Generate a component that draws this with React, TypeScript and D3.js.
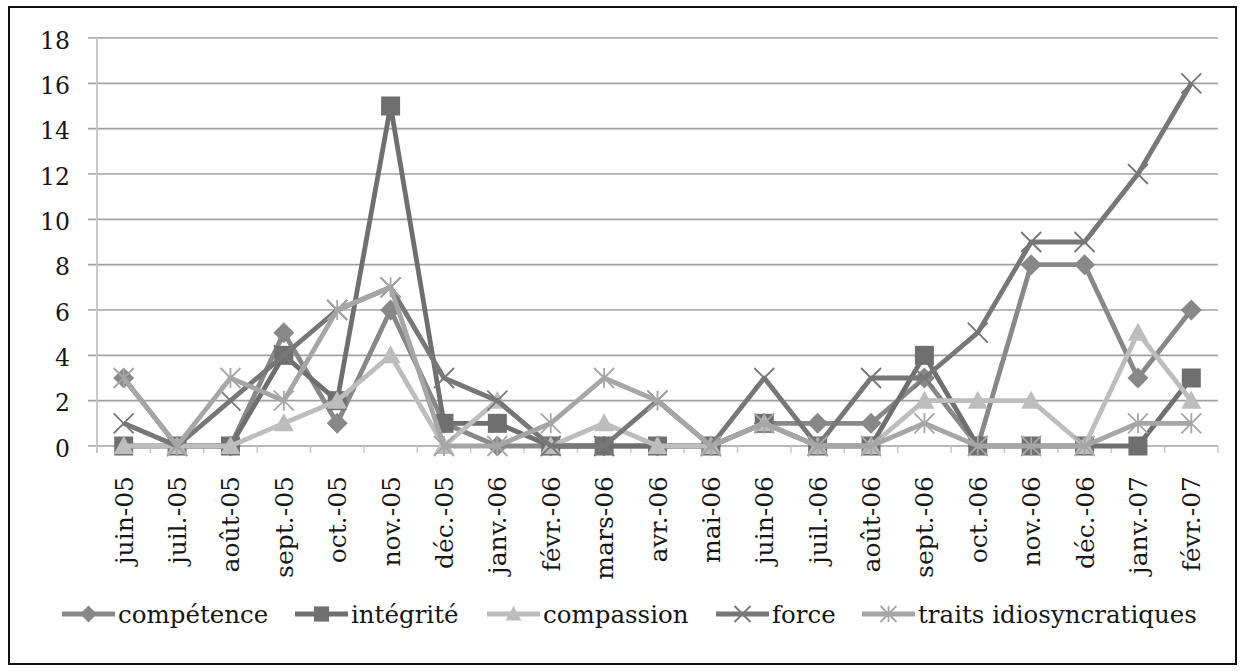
import React from "react";
import * as d3 from "d3";

const categories = [
  "juin-05", "juil.-05", "août-05", "sept.-05", "oct.-05", "nov.-05", "déc.-05",
  "janv.-06", "févr.-06", "mars-06", "avr.-06", "mai-06", "juin-06", "juil.-06",
  "août-06", "sept.-06", "oct.-06", "nov.-06", "déc.-06", "janv.-07", "févr.-07",
];
const competence = [3, 0, 0, 5, 1, 6, 1, 0, 0, 0, 0, 0, 1, 1, 1, 3, 0, 8, 8, 3, 6];
const integrite = [0, 0, 0, 4, 2, 15, 1, 1, 0, 0, 0, 0, 1, 0, 0, 4, 0, 0, 0, 0, 3];
const compassion = [0, 0, 0, 1, 2, 4, 0, 2, 0, 1, 0, 0, 1, 0, 0, 2, 2, 2, 0, 5, 2];
const force = [1, 0, 2, 4, 6, 7, 3, 2, 0, 0, 2, 0, 3, 0, 3, 3, 5, 9, 9, 12, 16];
const traits = [3, 0, 3, 2, 6, 7, 0, 0, 1, 3, 2, 0, 1, 0, 0, 1, 0, 0, 0, 1, 1];
const yTicks = [0, 2, 4, 6, 8, 10, 12, 14, 16, 18];

type Marker = "diamond" | "square" | "triangle" | "x" | "star";
const series: { name: string; values: number[]; color: string; marker: Marker }[] = [
  { name: "compétence", values: competence, color: "#888888", marker: "diamond" },
  { name: "intégrité", values: integrite, color: "#6f6f6f", marker: "square" },
  { name: "compassion", values: compassion, color: "#bdbdbd", marker: "triangle" },
  { name: "force", values: force, color: "#777777", marker: "x" },
  { name: "traits idiosyncratiques", values: traits, color: "#a6a6a6", marker: "star" },
];

const FONT = "'DejaVu Serif', serif";

function MarkerShape({ type, cx, cy, color, s = 1 }: { type: Marker; cx: number; cy: number; color: string; s?: number }) {
  if (type === "diamond") {
    const h = 10.5 * s;
    return <path d={`M${cx},${cy - h}L${cx + h},${cy}L${cx},${cy + h}L${cx - h},${cy}Z`} fill={color} />;
  }
  if (type === "square") {
    const h = 9.5 * s;
    return <rect x={cx - h} y={cy - h} width={2 * h} height={2 * h} fill={color} />;
  }
  if (type === "triangle") {
    const h = 10 * s;
    return <path d={`M${cx},${cy - h}L${cx + h},${cy + h * 0.8}L${cx - h},${cy + h * 0.8}Z`} fill={color} />;
  }
  if (type === "x") {
    const h = 10 * s;
    return (
      <path d={`M${cx - h},${cy - h}L${cx + h},${cy + h}M${cx - h},${cy + h}L${cx + h},${cy - h}`} stroke={color} strokeWidth={1.8} fill="none" />
    );
  }
  const h = 10 * s;
  return (
    <path
      d={`M${cx - h},${cy - h}L${cx + h},${cy + h}M${cx - h},${cy + h}L${cx + h},${cy - h}M${cx},${cy - h}L${cx},${cy + h}`}
      stroke={color}
      strokeWidth={1.8}
      fill="none"
    />
  );
}

export default function App() {
  const W = 1245;
  const H = 671;
  const left = 97;
  const right = 1218;
  const top = 38;
  const bottom = 446;

  const x = d3.scaleBand<string>().domain(categories).range([left, right]).padding(0);
  const y = d3.scaleLinear().domain([0, 18]).range([bottom, top]);
  const cx = (c: string) => (x(c) as number) + x.bandwidth() / 2;

  const line = d3
    .line<number>()
    .x((_, i) => cx(categories[i]))
    .y((d) => y(d));

  const legendItems = [
    { lx: 62, tx: 118 },
    { lx: 295, tx: 351 },
    { lx: 487, tx: 543 },
    { lx: 716, tx: 772 },
    { lx: 862, tx: 918 },
  ];
  const legendY = 614;

  const boundaries = d3.range(categories.length + 1).map((i) => left + i * x.bandwidth());

  return (
    <svg
      width={W}
      height={H}
      style={{ position: "absolute", left: 0, top: 0, background: "#fff" }}
      fontFamily={FONT}
    >
      <rect x={0} y={0} width={W} height={H} fill="#fff" />
      <rect x={9} y={7} width={1227} height={657} fill="none" stroke="#111" strokeWidth={2} />

      {yTicks.map((t) => (
        <g key={t}>
          <line x1={88} x2={right} y1={y(t)} y2={y(t)} stroke="#a0a0a0" strokeWidth={1.6} />
          <text x={70} y={y(t)} dy="0.45em" textAnchor="end" fontSize={23.5} fill="#161616">
            {t}
          </text>
        </g>
      ))}
      <line x1={left} x2={left} y1={top} y2={bottom + 7} stroke="#c8c8c8" strokeWidth={2} />
      {boundaries.slice(1).map((b, i) => (
        <line key={i} x1={b} x2={b} y1={bottom} y2={bottom + 7} stroke="#c8c8c8" strokeWidth={1.5} />
      ))}

      {series.map((s) => (
        <g key={s.name}>
          <path d={line(s.values) || ""} fill="none" stroke={s.color} strokeWidth={4.8} strokeLinejoin="round" />
          {s.values.map((v, i) => (
            <MarkerShape key={i} type={s.marker} cx={cx(categories[i])} cy={y(v)} color={s.color} />
          ))}
        </g>
      ))}

      {categories.map((c) => (
        <text
          key={c}
          transform={`translate(${cx(c)},476) rotate(-90)`}
          textAnchor="end"
          dy="0.36em"
          fontSize={25}
          fill="#161616"
        >
          {c}
        </text>
      ))}

      {series.map((s, i) => {
        const it = legendItems[i];
        const mid = (it.lx + it.tx - 3) / 2;
        return (
          <g key={s.name}>
            <line x1={it.lx} x2={it.tx - 3} y1={legendY} y2={legendY} stroke={s.color} strokeWidth={5} />
            <MarkerShape type={s.marker} cx={mid} cy={legendY} color={s.color} s={0.8} />
            <text x={it.tx} y={legendY} dy="0.36em" fontSize={24.5} fill="#161616">
              {s.name}
            </text>
          </g>
        );
      })}
    </svg>
  );
}
